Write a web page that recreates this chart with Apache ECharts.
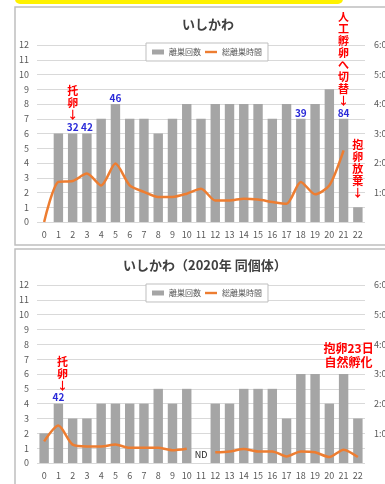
<!DOCTYPE html>
<html>
<head>
<meta charset="utf-8">
<script src="https://cdn.jsdelivr.net/npm/echarts@6/dist/echarts.min.js"></script>
<style>
  html, body { margin: 0; padding: 0; background: #fff; }
  #chart { width: 385px; height: 484px; }
</style>
</head>
<body>
<div id="chart"></div>
<script>
// 日数 (孵化後)
const days = ['0','1','2','3','4','5','6','7','8','9','10','11','12','13','14','15','16','17','18','19','20','21','22']

// 上: いしかわ
const outings2021 = [0, 6, 6, 6, 7, 8, 7, 7, 6, 7, 8, 7, 8, 8, 8, 8, 7, 8, 7, 8, 9, 7, 1]
const hours2021 = [0, 1.36, 1.39, 1.64, 1.24, 1.98, 1.24, 1.02, 0.85, 0.85, 0.96, 1.13, 0.73, 0.73, 0.79, 0.76, 0.68, 0.62, 1.36, 0.94, 1.24, 2.43, null]
const eggLabels2021 = ['', '', '32', '42', '', '46', '', '', '', '', '', '', '', '', '', '', '', '', '39', '', '', '84', '']

// 下: いしかわ (2020年 同個体)
const outings2020 = [2, 4, 3, 3, 4, 4, 4, 4, 5, 4, 5, null, 4, 4, 5, 5, 5, 3, 6, 6, 4, 6, 3]
const hours2020 = [0.73, 1.26, 0.62, 0.56, 0.56, 0.62, 0.51, 0.51, 0.51, 0.43, 0.48, null, 0.36, 0.39, 0.47, 0.39, 0.39, 0.22, 0.39, 0.36, 0.2, 0.45, 0.2]
const eggLabels2020 = ['', '42', '', '', '', '', '', '', '', '', '', '', '', '', '', '', '', '', '', '', '', '', '']

const countTicks = [0, 1, 2, 3, 4, 5, 6, 7, 8, 9, 10, 11, 12]
const hourTicks = ['0:00', '1:00', '2:00', '3:00', '4:00', '5:00', '6:00']

const gray = '#595959'
const red = '#ff0000'

const chart = echarts.init(document.getElementById('chart'))

const xAxisFor = (i) => ({
  type: 'category',
  gridIndex: i,
  data: days,
  axisLine: { show: false },
  axisTick: { show: false },
  axisLabel: { color: gray, fontSize: 9, margin: 8, interval: 0 }
})

const leftAxisFor = (i) => ({
  type: 'value',
  gridIndex: i,
  min: 0,
  max: countTicks[countTicks.length - 1],
  interval: 1,
  axisLine: { show: false },
  axisTick: { show: false },
  axisLabel: { color: gray, fontSize: 9, margin: 8 },
  splitLine: { lineStyle: { color: '#d9d9d9', width: 1 } }
})

const rightAxisFor = (i) => ({
  type: 'value',
  gridIndex: i,
  position: 'right',
  min: 0,
  max: hourTicks.length - 1,
  interval: 1,
  axisLine: { show: false },
  axisTick: { show: false },
  splitLine: { show: false },
  axisLabel: {
    color: gray, fontSize: 9, margin: 9,
    formatter: (v) => v === 0 ? '' : hourTicks[v]
  }
})

const annot = {
  symbol: 'rect',
  symbolSize: 1,
  silent: true,
  itemStyle: { color: 'rgba(0,0,0,0)' },
  label: { show: true, position: 'inside', color: red, fontWeight: 'bold', fontSize: 11, lineHeight: 12 }
}

const barSeries = (i, data, labels, marks) => ({
  name: '離巣回数',
  type: 'bar',
  xAxisIndex: i,
  yAxisIndex: i * 2,
  data: data,
  barWidth: '66%',
  itemStyle: { color: '#a5a5a5' },
  label: {
    show: true,
    position: 'top',
    distance: 1,
    color: '#2a2ad8',
    fontWeight: 'bold',
    fontSize: 10,
    formatter: (p) => labels[p.dataIndex]
  },
  markPoint: Object.assign({}, annot, { data: marks })
})

const lineSeries = (i, data) => ({
  name: '総離巣時間',
  type: 'line',
  xAxisIndex: i,
  yAxisIndex: i * 2 + 1,
  data: data,
  symbol: 'none',
  smooth: 0.25,
  connectNulls: false,
  lineStyle: { color: '#ed7d31', width: 2.5 },
  itemStyle: { color: '#ed7d31' }
})

const legendFor = (top) => ({
  left: 146,
  top: top,
  padding: [5, 6],
  itemGap: 4,
  itemWidth: 12,
  itemHeight: 5,
  backgroundColor: '#fff',
  borderColor: '#bfbfbf',
  borderWidth: 1,
  textStyle: { color: gray, fontSize: 8 },
  data: [
    { name: '離巣回数', icon: 'rect' },
    { name: '総離巣時間', icon: 'path://M0,0H20V4H0Z', itemStyle: { color: '#ed7d31' } }
  ]
})

const option = {
  animation: false,
  textStyle: { fontFamily: 'Noto Sans CJK JP' },
  graphic: [
    { type: 'rect', shape: { x: 15, y: -6, width: 328, height: 10, r: 5 }, style: { fill: '#fff200' }, z: -10 },
    { type: 'rect', shape: { x: 15, y: 7, width: 400, height: 238 }, style: { fill: 'none', stroke: '#bfbfbf', lineWidth: 1.5 }, z: -10 },
    { type: 'rect', shape: { x: 15, y: 249, width: 400, height: 260 }, style: { fill: 'none', stroke: '#bfbfbf', lineWidth: 1.5 }, z: -10 }
  ],
  title: [
    { text: 'いしかわ', left: 182, top: 18, padding: 0, textStyle: { fontSize: 13, fontWeight: 'bold', color: '#404040' } },
    { text: 'いしかわ（2020年 同個体）', left: 123, top: 259, padding: 0, textStyle: { fontSize: 13, fontWeight: 'bold', color: '#404040' } }
  ],
  legend: [legendFor(43), legendFor(284)],
  grid: [
    { left: 37, top: 45, width: 328, height: 177, outerBoundsMode: 'none' },
    { left: 37, top: 285, width: 328, height: 178, outerBoundsMode: 'none' }
  ],
  xAxis: [xAxisFor(0), xAxisFor(1)],
  yAxis: [leftAxisFor(0), rightAxisFor(0), leftAxisFor(1), rightAxisFor(1)],
  series: [
    barSeries(0, outings2021, eggLabels2021, [
      { coord: ['2', 8.07], label: { formatter: '托\n卵\n↓' } },
      { coord: ['21', 11.05], label: { formatter: '人\n工\n孵\n卵\nへ\n切\n替\n↓' } },
      { coord: ['22', 3.6], label: { formatter: '抱\n卵\n放\n棄\n↓' } }
    ]),
    lineSeries(0, hours2021),
    barSeries(1, outings2020, eggLabels2020, [
      { coord: ['1', 6.0], label: { formatter: '托\n卵\n↓', offset: [4, 0] } },
      { coord: ['21', 7.28], label: { formatter: '抱卵23日\n自然孵化', fontSize: 12, lineHeight: 14, offset: [5, 0] } },
      { coord: ['11', 0.54], label: { formatter: 'ND', color: '#222', fontWeight: 'normal', fontSize: 9 } }
    ]),
    lineSeries(1, hours2020)
  ]
}

chart.setOption(option)
</script>
</body>
</html>
